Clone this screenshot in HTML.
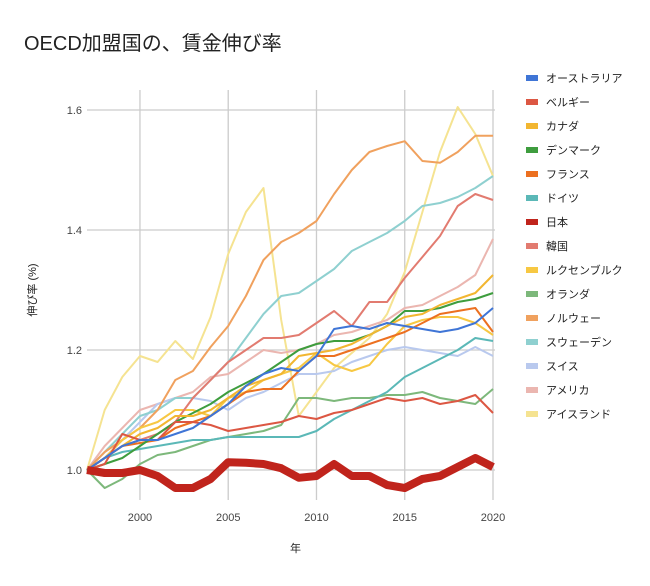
<!DOCTYPE html>
<html><head><meta charset="utf-8"><style>
body{margin:0;background:#fff;font-family:"Liberation Sans","Noto Sans CJK JP",sans-serif}
svg text{font-family:"Liberation Sans","Noto Sans CJK JP",sans-serif}
</style></head><body>
<svg id="c" width="650" height="581">
<text x="24" y="50" font-size="20" fill="#222">OECD加盟国の、賃金伸び率</text>
<g id="grid"></g><g id="lines"></g><g id="legend"></g>
<text x="290" y="552" font-size="11" fill="#222">年</text>
<text transform="translate(36,290) rotate(-90)" text-anchor="middle" font-size="11" fill="#222">伸び率 (%)</text>
</svg>
<script>
const years=[1997,1998,1999,2000,2001,2002,2003,2004,2005,2006,2007,2008,2009,2010,2011,2012,2013,2014,2015,2016,2017,2018,2019,2020];
const xTicks=[2000,2005,2010,2015,2020];
const yTicks=[1.0,1.2,1.4,1.6];
const names=["オーストラリア","ベルギー","カナダ","デンマーク","フランス","ドイツ","日本","韓国","ルクセンブルク","オランダ","ノルウェー","スウェーデン","スイス","アメリカ","アイスランド"];
const australia=[1.0,1.02,1.04,1.05,1.05,1.06,1.07,1.09,1.11,1.14,1.16,1.17,1.165,1.19,1.235,1.24,1.235,1.245,1.24,1.235,1.23,1.235,1.245,1.27];
const belgium=[1.0,1.01,1.06,1.05,1.05,1.08,1.08,1.075,1.065,1.07,1.075,1.08,1.09,1.085,1.095,1.1,1.11,1.12,1.115,1.12,1.11,1.115,1.125,1.095];
const canada=[1.0,1.02,1.04,1.06,1.07,1.09,1.09,1.1,1.12,1.14,1.15,1.16,1.19,1.195,1.2,1.21,1.225,1.24,1.255,1.26,1.275,1.285,1.295,1.325];
const denmark=[1.0,1.01,1.02,1.04,1.06,1.08,1.095,1.11,1.13,1.145,1.16,1.18,1.2,1.21,1.215,1.215,1.225,1.24,1.265,1.265,1.27,1.28,1.285,1.295];
const france=[1.0,1.02,1.04,1.045,1.05,1.07,1.08,1.09,1.11,1.13,1.135,1.135,1.165,1.19,1.19,1.2,1.21,1.22,1.23,1.245,1.26,1.265,1.27,1.23];
const germany=[1.0,1.02,1.03,1.035,1.04,1.045,1.05,1.05,1.055,1.055,1.055,1.055,1.055,1.065,1.085,1.1,1.115,1.13,1.155,1.17,1.185,1.2,1.22,1.215];
const japan=[1.0,0.995,0.995,1.0,0.99,0.97,0.97,0.985,1.013,1.012,1.01,1.003,0.987,0.99,1.01,0.99,0.99,0.975,0.97,0.985,0.99,1.005,1.02,1.005];
const korea=[1.0,1.02,1.04,1.05,1.06,1.08,1.12,1.15,1.18,1.2,1.22,1.22,1.225,1.245,1.265,1.24,1.28,1.28,1.32,1.355,1.39,1.44,1.46,1.45];
const luxembourg=[1.0,1.02,1.05,1.07,1.08,1.1,1.1,1.09,1.12,1.13,1.15,1.16,1.17,1.195,1.175,1.165,1.175,1.21,1.24,1.25,1.255,1.255,1.245,1.225];
const netherlands=[1.0,0.97,0.985,1.01,1.025,1.03,1.04,1.05,1.055,1.06,1.065,1.075,1.12,1.12,1.115,1.12,1.12,1.125,1.125,1.13,1.12,1.115,1.11,1.135];
const norway=[1.0,1.03,1.05,1.07,1.1,1.15,1.165,1.205,1.24,1.29,1.35,1.38,1.395,1.415,1.46,1.5,1.53,1.54,1.548,1.515,1.512,1.53,1.557,1.557];
const sweden=[1.0,1.03,1.06,1.09,1.1,1.12,1.12,1.15,1.18,1.22,1.26,1.29,1.295,1.315,1.335,1.365,1.38,1.395,1.415,1.44,1.445,1.455,1.47,1.49];
const switzerland=[1.0,1.02,1.05,1.08,1.11,1.12,1.12,1.115,1.1,1.12,1.13,1.145,1.16,1.16,1.165,1.18,1.19,1.2,1.205,1.2,1.195,1.19,1.205,1.19];
const usa=[1.0,1.04,1.07,1.1,1.11,1.12,1.13,1.155,1.16,1.18,1.2,1.195,1.2,1.21,1.225,1.23,1.24,1.25,1.27,1.275,1.29,1.305,1.325,1.385];
const iceland=[1.0,1.1,1.155,1.19,1.18,1.215,1.185,1.255,1.36,1.43,1.47,1.25,1.09,1.13,1.17,1.195,1.22,1.26,1.33,1.43,1.53,1.605,1.56,1.49];
const series=[australia,belgium,canada,denmark,france,germany,japan,korea,luxembourg,netherlands,norway,sweden,switzerland,usa,iceland];
const colors=["#3f75d6","#dc5743","#f2b631","#3e9d3e","#ec7020","#5bb8b7","#c0241c","#e27b70","#f7c843","#7db87b","#f0a15e","#8fd0d0","#b9c9ee","#ebb6b0","#f5e391"];
const NS="http://www.w3.org/2000/svg";
const X=v=>87+(v-1997)*(493-87)/23;
const Y=v=>470-(v-1)*600;
function mk(t,a,p){const e=document.createElementNS(NS,t);for(const k in a)e.setAttribute(k,a[k]);p.appendChild(e);return e;}
const g=document.getElementById('grid');
yTicks.forEach(t=>{
 const l=mk('line',{x1:87,x2:495,y1:Y(t),y2:Y(t),stroke:'#ccc','stroke-width':1.3},g);
 
 
 const tx=mk('text',{x:82,y:Y(t)+4,'text-anchor':'end','font-size':11,fill:'#444'},g);tx.textContent=t.toFixed(1);
 
 
});
xTicks.forEach(t=>{
 const l=mk('line',{x1:X(t),x2:X(t),y1:90,y2:500,stroke:'#ccc','stroke-width':1.3},g);
 
 
 const tx=mk('text',{x:X(t),y:521,'text-anchor':'middle','font-size':11,fill:'#444'},g);tx.textContent=t;
 
 
});
const L=document.getElementById('lines');
const order=[14,13,12,11,10,9,8,7,5,4,3,2,1,0,6];
order.forEach(i=>{
 const d=series[i].map((v,j)=>(j?'L':'M')+X(years[j]).toFixed(1)+','+Y(v).toFixed(1)).join('');
 const p=mk('path',{d:d,fill:'none',stroke:colors[i],'stroke-width':i===6?8:2,'stroke-linejoin':'round'},L);
 
 
});
const lg=document.getElementById('legend');
names.forEach((n,i)=>{
 const y=79+i*24;
 const r=mk('rect',{x:526,y:y-4,width:12,height:6,fill:colors[i]},lg);
 
 
 const t=mk('text',{x:546,y:y+3,'font-size':11,fill:'#222'},lg);t.textContent=n;
 
 
});
</script>
</body></html>
